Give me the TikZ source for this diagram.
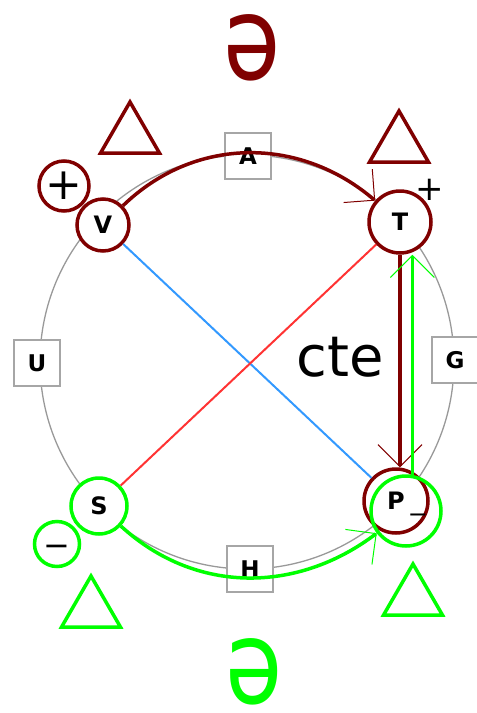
\documentclass[tikz,border=0pt]{standalone}
\usepackage{fontspec}
\setmainfont{DejaVu Sans}
\usepackage{graphicx}
\usetikzlibrary{arrows.meta, shapes.geometric}

\definecolor{darkred}{HTML}{800000}
\definecolor{brightgreen}{HTML}{00FF00}
\definecolor{lineblue}{HTML}{3399FF}
\definecolor{linered}{HTML}{FF3333}

\begin{document}
\begin{tikzpicture}[
  x=1pt, y=-1pt,
  %% vertex circles and sign circles
  vtx/.style={circle, line width=3.5pt, fill=white, inner sep=0pt,
    font=\fontsize{24}{24}\selectfont\bfseries},
  signc/.style={circle, line width=3.5pt, inner sep=0pt},
  lbl/.style={draw=gray!70, fill=white, line width=1.2pt,
    minimum size=46pt, inner sep=0pt,
    font=\fontsize{23}{23}\selectfont\bfseries},
  tri/.style={regular polygon, regular polygon sides=3,
    line width=3.5pt, minimum size=68pt, inner sep=0pt},
  barbR/.style={draw=darkred, line width=3.5pt,
    -{Straight Barb[length=22pt, width=44pt, line width=1pt]}},
  barbG/.style={draw=brightgreen, line width=3.5pt,
    -{Straight Barb[length=22pt, width=44pt, line width=1pt]}},
]
\useasboundingbox (0,0) rectangle (477,713);

%% ring
\draw[gray!80, line width=1.3pt] (247,362) circle[radius=207];

%% vertices
\node[vtx, draw=darkred, minimum size=52pt] (V) at (103,225) {V};
\node[vtx, draw=darkred, minimum size=62pt] (T) at (400,222) {T};
\node[vtx, draw=darkred, minimum size=64pt] (P) at (396,501) {P};
\node[vtx, draw=brightgreen, minimum size=56pt] (S) at (99,506) {S};

%% diagonals
\draw[lineblue, line width=2pt] (V) -- (P);
\draw[linered, line width=2pt] (S) -- (T);

%% potentials on the ring
\node[lbl] (U) at (37,363) {U};
\node[lbl] (A) at (248,156) {A};
\node[lbl] (G) at (455,360) {G};
\node[lbl] (H) at (250,569) {H};

%% paths
\draw[barbR] (V) .. controls (195,136) and (300,136) .. (T);
\draw[barbR] (T.south) -- (T.south |- P.north);
\node[signc, draw=brightgreen, minimum size=70pt] (Pg) at (406,511) {};
\draw[barbG] (Pg.80) -- (Pg.80 |- T.south);
\draw[barbG] (S) .. controls (196,595) and (298,593) .. (Pg);

%% signs
\node[signc, draw=darkred, minimum size=50pt,
  font=\fontsize{44}{44}\selectfont] (plusV) at (64,186) {+};
\node[font=\fontsize{34}{34}\selectfont, inner sep=0pt] (plusT) at (430,190) {+};
\node[font=\fontsize{24}{24}\selectfont, inner sep=0pt] (minP) at (418,518) {−};
\node[signc, draw=brightgreen, minimum size=45pt] (minS) at (57,544) {};
\node[font=\fontsize{32}{32}\selectfont, inner sep=0pt] (minSt) at (57,551) {−};

%% triangles
\node[tri, draw=darkred] (triV) at (130,136) {};
\node[tri, draw=darkred] (triT) at (399,145) {};
\node[tri, draw=brightgreen] (triS) at (91,610) {};
\node[tri, draw=brightgreen] (triP) at (413,598) {};

%% big symbols
\node[font=\fontsize{56}{56}\selectfont, inner sep=0pt] (cte) at (340,357) {cte};
\node[text=darkred, inner sep=0pt, font=\fontsize{116}{116}\selectfont]
  (schwaTop) at (252,48) {\scalebox{0.8}[1]{ə}};
\node[text=brightgreen, inner sep=0pt, font=\fontsize{116}{116}\selectfont]
  (schwaBot) at (254,672) {\scalebox{0.8}[1]{ə}};

\end{tikzpicture}
\end{document}
